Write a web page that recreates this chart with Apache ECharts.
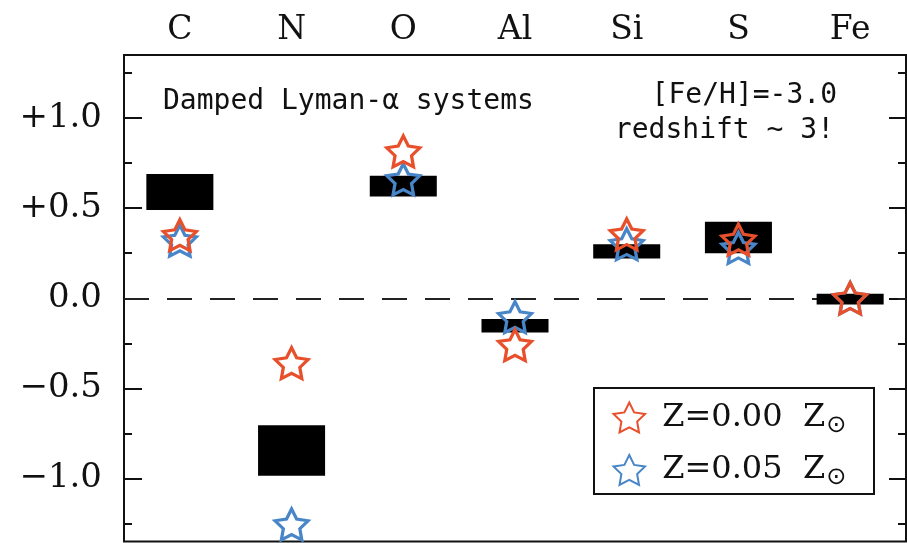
<!DOCTYPE html>
<html>
<head>
<meta charset="utf-8">
<script src="https://cdn.jsdelivr.net/npm/echarts@6/dist/echarts.min.js"></script>
<style>
  html, body { margin: 0; padding: 0; background: #fff; }
  #chart { width: 907px; height: 543px; }
</style>
</head>
<body>
<div id="chart"></div>
<script>
// Element abundances [X/Fe] for [Fe/H] = -3.0
const elements = ['C', 'N', 'O', 'Al', 'Si', 'S', 'Fe'];

// Observed range in damped Lyman-alpha systems (bottom and top of each box)
const dlaLow  = [0.49, -0.985, 0.565, -0.19, 0.22, 0.25, -0.035];
const dlaHigh = [0.69, -0.705, 0.68, -0.115, 0.30, 0.425, 0.025];

// Model yields for two initial metallicities
const yieldZ000 = [0.35, -0.36, 0.815, -0.26, 0.355, 0.325, 0.0];
const yieldZ005 = [0.32, -1.255, 0.66, -0.105, 0.30, 0.28, 0.0];

const seriesNames = ['Z=0.00', 'Z=0.05'];

// Y axis ticks
const yTickValues = [-1.0, -0.5, 0.0, 0.5, 1.0];
const yTickLabels = ['\u22121.0', '\u22120.5', '0.0', '+0.5', '+1.0'];
const yMinorValues = [-1.25, -0.75, -0.25, 0.25, 0.75, 1.25];

const RED = '#e8502c';
const BLUE = '#4886c8';

// Five-pointed star outline used as the marker symbol
function starPath(outer, inner) {
  const pts = [];
  for (let i = 0; i < 10; i++) {
    const r = i % 2 === 0 ? outer : inner;
    const a = -Math.PI / 2 + i * Math.PI / 5;
    pts.push((50 + r * Math.cos(a)).toFixed(2) + ',' + (50 + r * Math.sin(a)).toFixed(2));
  }
  return 'path://M' + pts.join('L') + 'Z';
}
const STAR = starPath(50, 25);

const chart = echarts.init(document.getElementById('chart'), null, { renderer: 'canvas' });

const yAxisBase = {
  type: 'value', min: -1.35, max: 1.35,
  axisLine: { show: false }, splitLine: { show: false }
};
function tickAxis(position, values, len, withLabels) {
  return Object.assign({}, yAxisBase, {
    position: position,
    axisTick: { show: true, inside: true, length: len, customValues: values,
                lineStyle: { color: '#111', width: 2 } },
    axisLabel: withLabels ? {
      show: true, customValues: yTickValues, margin: 22,
      fontFamily: 'DejaVu Serif', fontSize: 34, color: '#111',
      formatter: v => yTickLabels[yTickValues.indexOf(Math.round(v * 100) / 100)]
    } : { show: false }
  });
}

const option = {
  animation: false,
  backgroundColor: '#fff',
  grid: { left: 124, right: 1, top: 55, bottom: 1.5, show: true,
          borderColor: '#111', borderWidth: 2, backgroundColor: 'transparent' },
  xAxis: {
    type: 'category', data: elements, position: 'top',
    axisLine: { show: false }, axisTick: { show: false },
    axisLabel: { margin: 8, fontFamily: 'DejaVu Serif', fontSize: 33, color: '#111' },
    splitLine: { show: false }
  },
  yAxis: [
    tickAxis('left', yTickValues, 18, true),
    tickAxis('left', yMinorValues, 8, false),
    tickAxis('right', yTickValues, 17, false),
    tickAxis('right', yMinorValues, 8, false)
  ],
  legend: {
    orient: 'vertical', left: 611, top: 400, padding: 0,
    itemWidth: 32, itemHeight: 30, itemGap: 15,
    data: [
      { name: seriesNames[0], icon: STAR },
      { name: seriesNames[1], icon: STAR }
    ],
    formatter: name => '{t|' + name + '  Z}{s|\u2299}',
    textStyle: {
      color: '#111', fontFamily: 'DejaVu Serif', fontSize: 32,
      rich: {
        t: { fontFamily: 'DejaVu Serif', fontSize: 32, color: '#111', padding: [0, 0, 0, 12] },
        s: { fontFamily: 'DejaVu Sans', fontSize: 24, color: '#111', padding: [16, 0, 0, 1] }
      }
    }
  },
  graphic: [
    { type: 'rect', shape: { x: 594, y: 388, width: 280, height: 106 },
      style: { fill: 'none', stroke: '#111', lineWidth: 2 }, z: 10 },
    { type: 'text', x: 163, y: 102,
      style: { text: 'Damped Lyman-\u03b1 systems', font: '28px "DejaVu Sans Mono"',
               fill: '#111', textAlign: 'left', textVerticalAlign: 'middle' }, z: 10 },
    { type: 'text', x: 837, y: 96,
      style: { text: '[Fe/H]=-3.0', font: '28px "DejaVu Sans Mono"',
               fill: '#111', textAlign: 'right', textVerticalAlign: 'middle' }, z: 10 },
    { type: 'text', x: 834, y: 131,
      style: { text: 'redshift ~ 3!', font: '28px "DejaVu Sans Mono"',
               fill: '#111', textAlign: 'right', textVerticalAlign: 'middle' }, z: 10 }
  ],
  series: [
    {
      // DLA abundance ranges as floating boxes, with the solar-ratio reference line
      type: 'custom', name: 'DLA', z: 3,
      data: elements.map((e, i) => [i, dlaLow[i], dlaHigh[i]]),
      renderItem: function (params, api) {
        const top = api.coord([api.value(0), api.value(2)]);
        const bot = api.coord([api.value(0), api.value(1)]);
        const w = api.size([1, 0])[0] * 0.6;
        return {
          type: 'rect',
          shape: { x: top[0] - w / 2, y: top[1], width: w, height: bot[1] - top[1] },
          style: { fill: '#000' }
        };
      },
      markLine: {
        silent: true, symbol: 'none', z: 1,
        label: { show: false },
        lineStyle: { color: '#222', width: 2, type: [25, 18] },
        data: [{ yAxis: 0 }]
      }
    },
    {
      type: 'scatter', name: seriesNames[1], z: 4,
      data: yieldZ005, symbol: STAR, symbolSize: [33, 31],
      itemStyle: { color: 'none', borderColor: BLUE, borderWidth: 3.2, opacity: 1 }
    },
    {
      type: 'scatter', name: seriesNames[0], z: 5,
      data: yieldZ000, symbol: STAR, symbolSize: [33, 31],
      itemStyle: { color: 'none', borderColor: RED, borderWidth: 3.2, opacity: 1 }
    }
  ]
};

chart.setOption(option);
</script>
</body>
</html>
